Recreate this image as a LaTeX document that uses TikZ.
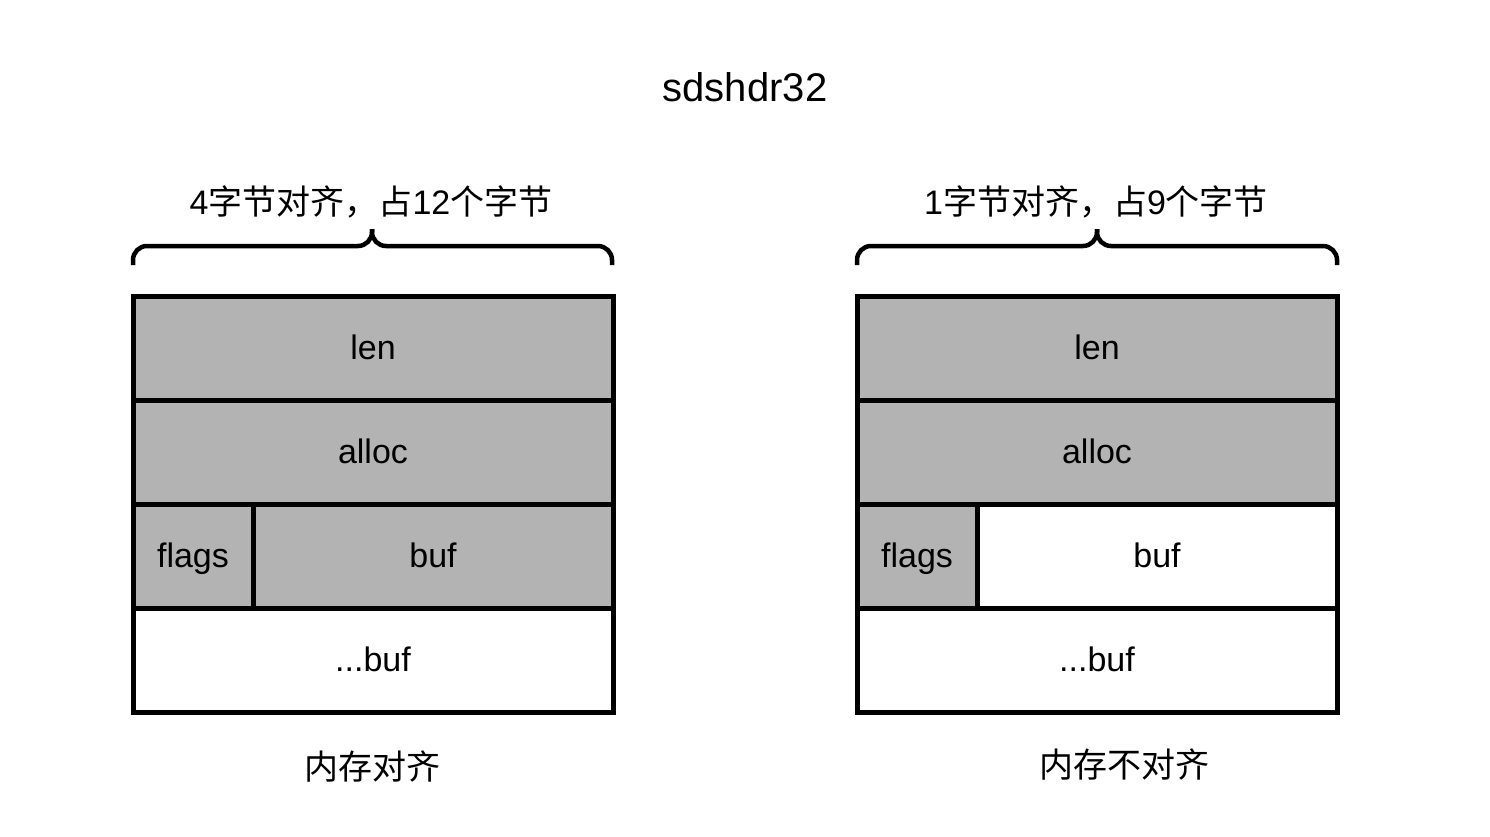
\documentclass[tikz,border=0pt]{standalone}
\usepackage{fontspec}
\setmainfont{Liberation Sans}
\newfontfamily\cjk{Noto Sans CJK SC}
\definecolor{cellgray}{RGB}{179,179,179}
\begin{document}
\begin{tikzpicture}[x=1pt,y=-1pt,
  cell/.style={draw,line width=5pt,minimum height=104pt,inner sep=0pt,
    text height=27pt,text depth=5pt,font=\fontsize{34}{40}\selectfont},
  full/.style={cell,minimum width=480pt},
  flagcell/.style={cell,minimum width=120pt},
  bufcell/.style={cell,minimum width=360pt},
  caption/.style={inner sep=0pt,font=\fontsize{34}{40}\selectfont},
  brace/.style={line width=4.5pt,rounded corners=14pt}]
\useasboundingbox (0,0) rectangle (1490,836);
\node[caption,font=\fontsize{40}{48}\selectfont] (title) at (745,87) {sdshdr32};
% aligned
\node[caption] (lhead) at (371,202) {4{\cjk 字节对齐，占}12{\cjk 个字节}};
\draw[brace] (133,265) -- (133,246) -- (372,246) -- (372,229);
\draw[brace] (612,265) -- (612,246) -- (372,246) -- (372,229);
\node[full,fill=cellgray] (llen) at (373,348) {len};
\node[full,fill=cellgray] (lalloc) at (373,452) {alloc};
\node[flagcell,fill=cellgray] (lflags) at (193,556) {flags};
\node[bufcell,fill=cellgray] (lbuf) at (433,556) {buf};
\node[full] (lrest) at (373,660) {...buf};
\node[caption] (lfoot) at (372,767) {\cjk 内存对齐};
% packed
\node[caption] (rhead) at (1096,202) {1{\cjk 字节对齐，占}9{\cjk 个字节}};
\draw[brace] (857,265) -- (857,246) -- (1097,246) -- (1097,229);
\draw[brace] (1337,265) -- (1337,246) -- (1097,246) -- (1097,229);
\node[full,fill=cellgray] (rlen) at (1097,348) {len};
\node[full,fill=cellgray] (ralloc) at (1097,452) {alloc};
\node[flagcell,fill=cellgray] (rflags) at (917,556) {flags};
\node[bufcell] (rbuf) at (1157,556) {buf};
\node[full] (rrest) at (1097,660) {...buf};
\node[caption] (rfoot) at (1124,765) {\cjk 内存不对齐};
\end{tikzpicture}
\end{document}
